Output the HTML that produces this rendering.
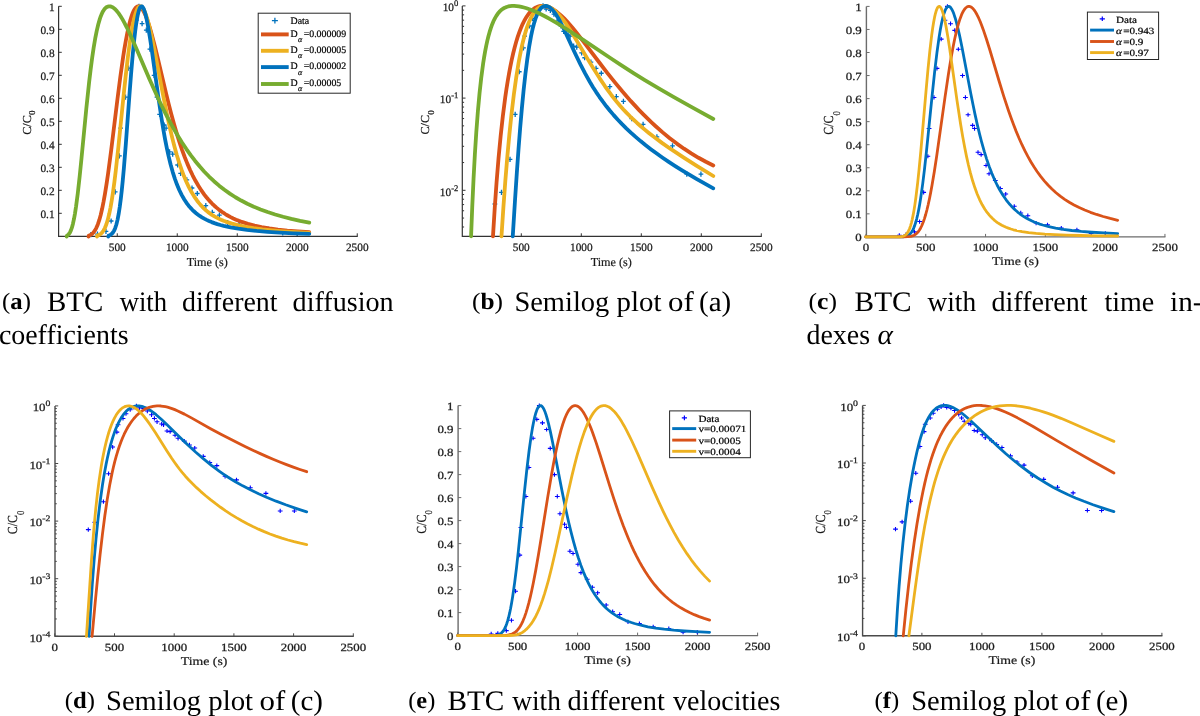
<!DOCTYPE html>
<html><head><meta charset="utf-8"><style>
html,body{margin:0;padding:0;background:#fff;}
body{width:1200px;height:716px;overflow:hidden;position:relative;}
svg{position:absolute;left:0;top:0;will-change:transform;}
text{font-family:"Liberation Serif",serif;text-rendering:geometricPrecision;}
.tl{fill:#1a1a1a;stroke:#1a1a1a;stroke-width:0.25px;}
.al{fill:#1a1a1a;stroke:#1a1a1a;stroke-width:0.2px;}
.lg{fill:#000;stroke:#000;stroke-width:0.2px;}
.cap{fill:#000;}
</style></head><body>
<svg width="1200" height="716" viewBox="0 0 1200 716">
<path d="M58.6 6.3V236.3H357.75" fill="none" stroke="#333" stroke-width="1.2"/>
<path d="M117.25 236.3v-3M177.25 236.3v-3M237.25 236.3v-3M297.25 236.3v-3M357.25 236.3v-3M58.6 213.3h3.2M58.6 190.3h3.2M58.6 167.3h3.2M58.6 144.3h3.2M58.6 121.3h3.2M58.6 98.3h3.2M58.6 75.3h3.2M58.6 52.3h3.2M58.6 29.3h3.2M58.6 6.3h3.2" stroke="#333" stroke-width="1"/>
<text x="117.25" y="250.7" class="tl" text-anchor="middle" style="font-size:11.3px">500</text>
<text x="177.25" y="250.7" class="tl" text-anchor="middle" style="font-size:11.3px">1000</text>
<text x="237.25" y="250.7" class="tl" text-anchor="middle" style="font-size:11.3px">1500</text>
<text x="297.25" y="250.7" class="tl" text-anchor="middle" style="font-size:11.3px">2000</text>
<text x="357.25" y="250.7" class="tl" text-anchor="middle" style="font-size:11.3px">2500</text>
<text x="54.6" y="217.6" class="tl" text-anchor="end" style="font-size:11.3px">0.1</text>
<text x="54.6" y="194.6" class="tl" text-anchor="end" style="font-size:11.3px">0.2</text>
<text x="54.6" y="171.6" class="tl" text-anchor="end" style="font-size:11.3px">0.3</text>
<text x="54.6" y="148.6" class="tl" text-anchor="end" style="font-size:11.3px">0.4</text>
<text x="54.6" y="125.6" class="tl" text-anchor="end" style="font-size:11.3px">0.5</text>
<text x="54.6" y="102.6" class="tl" text-anchor="end" style="font-size:11.3px">0.6</text>
<text x="54.6" y="79.6" class="tl" text-anchor="end" style="font-size:11.3px">0.7</text>
<text x="54.6" y="56.6" class="tl" text-anchor="end" style="font-size:11.3px">0.8</text>
<text x="54.6" y="33.6" class="tl" text-anchor="end" style="font-size:11.3px">0.9</text>
<text x="54.6" y="10.6" class="tl" text-anchor="end" style="font-size:11.3px">1</text>
<text x="207.25" y="265.7" class="al" text-anchor="middle" style="font-size:12.2px">Time (s)</text>
<text transform="translate(30.5 122.6) rotate(-90)" text-anchor="middle" class="al" style="font-size:12.2px">C/C<tspan dx="0.2" dy="4.9" style="font-size:9.03px">0</tspan></text>
<path d="M88.5 234.67h4.7M90.85 232.07v5.2M95.1 234.12h4.7M97.45 231.52v5.2M103.62 231.31h4.7M105.97 228.71v5.2M108.78 221.01h4.7M111.13 218.41v5.2M112.86 191.91h4.7M115.21 189.31v5.2M117.06 155.8h4.7M119.41 153.2v5.2M118.26 128.2h4.7M120.61 125.6v5.2M123.18 97.15h4.7M125.53 94.55v5.2M126.18 68.17h4.7M128.53 65.57v5.2M130.38 38.96h4.7M132.73 36.36v5.2M134.1 20.1h4.7M136.45 17.5v5.2M136.62 6.3h4.7M138.97 3.7v5.2M139.74 23.55h4.7M142.09 20.95v5.2M143.94 30.22h4.7M146.29 27.62v5.2M147.54 49.08h4.7M149.89 46.48v5.2M151.74 75.3h4.7M154.09 72.7v5.2M154.62 97.15h4.7M156.97 94.55v5.2M157.26 114.4h4.7M159.61 111.8v5.2M161.82 124.98h4.7M164.17 122.38v5.2M163.74 128.2h4.7M166.09 125.6v5.2M167.22 151.89h4.7M169.57 149.29v5.2M170.34 154.19h4.7M172.69 151.59v5.2M175.26 165h4.7M177.61 162.4v5.2M178.26 173.28h4.7M180.61 170.68v5.2M184.5 179.95h4.7M186.85 177.35v5.2M189.66 188h4.7M192.01 185.4v5.2M194.94 193.52h4.7M197.29 190.92v5.2M203.46 205.71h4.7M205.81 203.11v5.2M209.94 212.38h4.7M212.29 209.78v5.2M217.02 215.14h4.7M219.37 212.54v5.2M225.3 222.5h4.7M227.65 219.9v5.2M236.7 224.34h4.7M239.05 221.74v5.2M250.5 227.56h4.7M252.85 224.96v5.2M266.1 229.33h4.7M268.45 226.73v5.2M280.38 232.85h4.7M282.73 230.25v5.2M294.54 232.85h4.7M296.89 230.25v5.2" stroke="#0072BD" stroke-width="1.3" fill="none"/>
<path d="M88.56 236.6 L88.81 235.61 L90.01 235.16 L91.21 234.51 L92.29 233.69 L93.25 232.75 L94.09 231.73 L94.81 230.69 L96.25 228.1 L97.81 224.43 L99.25 220.15 L100.69 214.95 L102.13 208.79 L103.57 201.66 L105.01 193.6 L106.57 183.86 L108.13 173.2 L111.25 149.66 L117.49 98.86 L120.25 77.37 L123.13 57.04 L124.45 48.66 L125.77 40.96 L127.33 32.79 L128.89 25.7 L130.45 19.71 L132.01 14.84 L132.73 12.98 L133.57 11.1 L134.29 9.74 L135.13 8.45 L135.85 7.59 L136.69 6.87 L137.53 6.44 L138.37 6.3 L138.97 6.37 L139.57 6.58 L140.17 6.93 L140.89 7.51 L142.21 9.06 L143.65 11.39 L145.09 14.35 L146.53 17.86 L148.09 22.23 L149.65 27.12 L152.29 36.36 L155.17 47.51 L157.93 58.88 L166.09 93.44 L168.73 104.14 L171.25 113.91 L174.01 124.04 L176.65 133.12 L179.29 141.59 L182.05 149.78 L184.69 157 L187.33 163.63 L189.97 169.71 L192.73 175.52 L195.49 180.79 L198.37 185.77 L201.37 190.45 L204.49 194.8 L206.41 197.25 L208.33 199.53 L210.25 201.65 L212.29 203.76 L214.33 205.71 L216.49 207.63 L218.65 209.4 L220.93 211.13 L223.21 212.72 L225.61 214.27 L228.13 215.76 L230.65 217.12 L233.29 218.43 L236.05 219.67 L238.93 220.85 L241.81 221.93 L247.93 223.89 L254.53 225.62 L261.61 227.12 L269.41 228.43 L277.93 229.56 L287.29 230.53 L297.73 231.35 L309.25 232.03" fill="none" stroke="#D95319" stroke-width="3.8" stroke-linejoin="round" stroke-linecap="round"/>
<path d="M97.05 236.6 L97.3 235.61 L98.62 235.15 L99.82 234.52 L100.9 233.73 L101.86 232.81 L102.7 231.79 L103.42 230.74 L104.86 228.07 L106.3 224.48 L107.74 219.85 L109.18 214.02 L110.5 207.55 L111.82 199.95 L113.14 191.24 L114.46 181.44 L115.78 170.64 L118.42 146.61 L123.46 96.85 L125.62 76.46 L127.9 56.88 L130.06 40.84 L131.38 32.42 L132.58 25.77 L133.9 19.57 L135.1 14.99 L136.3 11.39 L136.9 9.96 L137.62 8.56 L138.22 7.66 L138.94 6.88 L139.54 6.48 L140.26 6.3 L140.74 6.35 L141.34 6.6 L141.82 6.95 L142.42 7.56 L143.5 9.14 L144.7 11.56 L145.9 14.63 L147.1 18.29 L148.3 22.47 L149.62 27.59 L151.78 36.97 L154.3 49.07 L163.78 98.56 L167.86 118.66 L170.14 129 L172.42 138.62 L174.58 147.04 L176.86 155.2 L179.14 162.63 L181.54 169.71 L183.94 176.07 L186.34 181.76 L188.86 187.09 L191.5 192.04 L194.26 196.58 L197.14 200.71 L198.82 202.87 L200.5 204.86 L202.3 206.82 L204.1 208.62 L205.9 210.26 L207.82 211.87 L209.86 213.42 L211.9 214.83 L214.06 216.18 L216.22 217.4 L218.62 218.63 L221.02 219.74 L223.54 220.79 L226.3 221.82 L232.06 223.67 L238.54 225.35 L245.62 226.83 L253.54 228.16 L262.42 229.36 L272.26 230.43 L283.3 231.39 L295.66 232.25 L309.25 233.01" fill="none" stroke="#EDB120" stroke-width="3.8" stroke-linejoin="round" stroke-linecap="round"/>
<path d="M108.33 236.6 L108.58 235.61 L109.78 235.18 L110.86 234.58 L111.82 233.81 L112.66 232.89 L113.38 231.88 L113.98 230.85 L115.18 228.17 L116.38 224.49 L117.58 219.59 L118.66 213.97 L119.74 207.08 L120.82 198.85 L121.78 190.36 L122.74 180.81 L123.82 168.87 L125.74 145.04 L129.46 94.71 L131.02 74.59 L132.7 54.96 L134.26 39.28 L135.22 31.05 L136.06 24.79 L137.02 18.75 L137.86 14.46 L138.7 11.1 L139.66 8.36 L140.14 7.43 L140.62 6.78 L141.1 6.41 L141.58 6.3 L141.94 6.39 L142.3 6.63 L142.66 7 L143.14 7.71 L143.86 9.2 L144.7 11.55 L145.54 14.5 L146.38 18 L148.18 27.08 L149.74 36.34 L151.54 48.19 L158.5 98.14 L161.62 119.03 L163.42 129.96 L165.1 139.33 L166.78 147.88 L168.58 156.15 L170.62 164.48 L172.66 171.82 L174.82 178.62 L176.98 184.55 L179.26 189.98 L181.78 195.14 L184.3 199.54 L187.06 203.63 L188.62 205.66 L190.3 207.64 L192.1 209.57 L193.9 211.3 L195.82 212.98 L197.74 214.49 L199.78 215.95 L201.94 217.33 L204.22 218.65 L206.62 219.89 L209.02 221 L211.66 222.1 L214.42 223.13 L217.3 224.08 L220.42 225 L223.66 225.86 L230.62 227.39 L238.3 228.72 L246.94 229.9 L256.66 230.93 L267.58 231.83 L279.82 232.61 L293.62 233.29 L309.25 233.88" fill="none" stroke="#0072BD" stroke-width="3.8" stroke-linejoin="round" stroke-linecap="round"/>
<path d="M66.72 236.6 L66.97 235.6 L67.81 235.09 L68.53 234.45 L69.25 233.59 L69.85 232.66 L70.93 230.41 L71.89 227.69 L72.97 223.72 L74.05 218.71 L75.01 213.35 L76.09 206.31 L77.77 193.39 L79.69 176.16 L81.49 158.35 L86.29 108.91 L89.17 81.77 L90.73 68.66 L92.17 57.73 L93.61 47.96 L95.17 38.72 L96.73 30.84 L98.29 24.25 L99.85 18.88 L100.69 16.46 L101.53 14.34 L102.37 12.52 L103.21 10.96 L104.05 9.67 L105.01 8.47 L105.97 7.56 L106.93 6.92 L107.89 6.51 L108.97 6.31 L110.41 6.42 L111.97 6.95 L113.53 7.89 L115.21 9.3 L116.89 11.1 L118.69 13.39 L120.61 16.22 L122.53 19.39 L124.57 23.08 L126.85 27.53 L129.25 32.5 L131.77 37.99 L136.45 48.65 L149.29 78.66 L156.73 95.29 L159.97 102.2 L163.21 108.86 L166.45 115.28 L169.57 121.22 L173.77 128.83 L177.97 136 L182.17 142.74 L186.37 149.05 L190.69 155.12 L195.13 160.93 L199.57 166.33 L204.13 171.46 L209.05 176.55 L213.97 181.21 L219.13 185.67 L224.41 189.8 L229.81 193.63 L235.45 197.23 L241.21 200.54 L247.33 203.69 L253.81 206.67 L260.53 209.43 L267.61 212.02 L275.17 214.47 L283.09 216.76 L291.37 218.87 L300.13 220.84 L309.25 222.64" fill="none" stroke="#77AC30" stroke-width="3.8" stroke-linejoin="round" stroke-linecap="round"/>
<rect x="258.2" y="13.2" width="92" height="80" fill="#fff" stroke="#262626" stroke-width="1"/>
<path d="M271.9 20.6h6M274.9 17.8v5.6" stroke="#0072BD" stroke-width="1.3"/>
<text x="290.6" y="24.3" class="lg" style="font-size:9.9px">Data</text>
<path d="M261 34.4H288.7" stroke="#D95319" stroke-width="3.9"/>
<text x="290.6" y="36.5" class="lg" style="font-size:9.9px">D<tspan dx="0.3" dy="5.3" style="font-size:8px;font-style:italic">α</tspan><tspan dx="1.4" dy="-5.3">=0.000009</tspan></text>
<path d="M261 50.8H288.7" stroke="#EDB120" stroke-width="3.9"/>
<text x="290.6" y="52.9" class="lg" style="font-size:9.9px">D<tspan dx="0.3" dy="5.3" style="font-size:8px;font-style:italic">α</tspan><tspan dx="1.4" dy="-5.3">=0.000005</tspan></text>
<path d="M261 67.1H288.7" stroke="#0072BD" stroke-width="3.9"/>
<text x="290.6" y="69.2" class="lg" style="font-size:9.9px">D<tspan dx="0.3" dy="5.3" style="font-size:8px;font-style:italic">α</tspan><tspan dx="1.4" dy="-5.3">=0.000002</tspan></text>
<path d="M261 84H288.7" stroke="#77AC30" stroke-width="3.9"/>
<text x="290.6" y="86.1" class="lg" style="font-size:9.9px">D<tspan dx="0.3" dy="5.3" style="font-size:8px;font-style:italic">α</tspan><tspan dx="1.4" dy="-5.3">=0.00005</tspan></text>
<path d="M462.3 5.9V236.3H761.8" fill="none" stroke="#333" stroke-width="1.2"/>
<path d="M521.3 236.3v-3M581.3 236.3v-3M641.3 236.3v-3M701.3 236.3v-3M761.3 236.3v-3M462.3 5.9h3.2M462.3 98.1h3.2M462.3 190.3h3.2M462.3 226.99h1.8M462.3 218.05h1.8M462.3 210.75h1.8M462.3 204.58h1.8M462.3 199.24h1.8M462.3 194.52h1.8M462.3 162.55h1.8M462.3 146.31h1.8M462.3 134.79h1.8M462.3 125.85h1.8M462.3 118.55h1.8M462.3 112.38h1.8M462.3 107.04h1.8M462.3 102.32h1.8M462.3 70.35h1.8M462.3 54.11h1.8M462.3 42.59h1.8M462.3 33.65h1.8M462.3 26.35h1.8M462.3 20.18h1.8M462.3 14.84h1.8M462.3 10.12h1.8" stroke="#333" stroke-width="1"/>
<text x="521.3" y="250.7" class="tl" text-anchor="middle" style="font-size:11.3px">500</text>
<text x="581.3" y="250.7" class="tl" text-anchor="middle" style="font-size:11.3px">1000</text>
<text x="641.3" y="250.7" class="tl" text-anchor="middle" style="font-size:11.3px">1500</text>
<text x="701.3" y="250.7" class="tl" text-anchor="middle" style="font-size:11.3px">2000</text>
<text x="761.3" y="250.7" class="tl" text-anchor="middle" style="font-size:11.3px">2500</text>
<text x="458.3" y="11.1" class="tl" text-anchor="end" style="font-size:11.3px">10<tspan dy="-4.9" style="font-size:8.59px">0</tspan></text>
<text x="458.3" y="103.3" class="tl" text-anchor="end" style="font-size:11.3px">10<tspan dy="-4.9" style="font-size:8.59px">-1</tspan></text>
<text x="458.3" y="195.5" class="tl" text-anchor="end" style="font-size:11.3px">10<tspan dy="-4.9" style="font-size:8.59px">-2</tspan></text>
<text x="611.3" y="265.7" class="al" text-anchor="middle" style="font-size:12.2px">Time (s)</text>
<text transform="translate(429.1 122.4) rotate(-90)" text-anchor="middle" class="al" style="font-size:12.2px">C/C<tspan dx="0.2" dy="4.9" style="font-size:9.03px">0</tspan></text>
<path d="M492.55 204.01h4.7M494.9 201.41v5.2M499.15 192.35h4.7M501.5 189.75v5.2M507.67 159.28h4.7M510.02 156.68v5.2M512.83 114.44h4.7M515.18 111.84v5.2M516.91 71.77h4.7M519.26 69.17v5.2M521.11 47.94h4.7M523.46 45.34v5.2M522.31 36.13h4.7M524.66 33.53v5.2M527.23 26.02h4.7M529.58 23.42v5.2M530.23 18.45h4.7M532.58 15.85v5.2M534.43 12.03h4.7M536.78 9.43v5.2M538.15 8.38h4.7M540.5 5.78v5.2M540.67 5.9h4.7M543.02 3.3v5.2M543.79 9.02h4.7M546.14 6.42v5.2M547.99 10.3h4.7M550.34 7.7v5.2M551.59 14.14h4.7M553.94 11.54v5.2M555.79 20.18h4.7M558.14 17.58v5.2M558.67 26.02h4.7M561.02 23.42v5.2M561.31 31.32h4.7M563.66 28.72v5.2M565.87 34.96h4.7M568.22 32.36v5.2M567.79 36.13h4.7M570.14 33.53v5.2M571.27 46.04h4.7M573.62 43.44v5.2M574.39 47.14h4.7M576.74 44.54v5.2M579.31 52.8h4.7M581.66 50.2v5.2M582.31 57.74h4.7M584.66 55.14v5.2M588.55 62.22h4.7M590.9 59.62v5.2M593.71 68.39h4.7M596.06 65.79v5.2M598.99 73.25h4.7M601.34 70.65v5.2M607.51 86.68h4.7M609.86 84.08v5.2M613.99 96.53h4.7M616.34 93.93v5.2M621.07 101.44h4.7M623.42 98.84v5.2M629.35 118.55h4.7M631.7 115.95v5.2M640.75 124.28h4.7M643.1 121.68v5.2M654.55 136.84h4.7M656.9 134.24v5.2M670.15 145.91h4.7M672.5 143.31v5.2M684.43 174.06h4.7M686.78 171.46v5.2M698.59 174.06h4.7M700.94 171.46v5.2" stroke="#0072BD" stroke-width="1.3" fill="none"/>
<path d="M492.98 236.3 L494.78 207.33 L496.58 182.07 L498.5 158.62 L500.66 135.83 L502.82 116.23 L505.22 97.58 L506.42 89.33 L507.74 80.97 L509.06 73.32 L510.38 66.31 L511.7 59.89 L513.14 53.49 L514.58 47.69 L516.14 42.01 L517.7 36.91 L519.26 32.34 L520.94 27.96 L522.62 24.09 L524.42 20.48 L526.22 17.36 L528.02 14.69 L529.94 12.3 L531.86 10.35 L533.9 8.71 L535.94 7.48 L538.1 6.58 L539.54 6.2 L540.98 5.97 L542.42 5.9 L543.86 5.97 L545.3 6.18 L546.86 6.54 L548.42 7.05 L550.1 7.74 L551.66 8.51 L553.34 9.48 L555.02 10.57 L556.82 11.87 L560.42 14.86 L564.14 18.42 L566.9 21.33 L569.9 24.69 L573.14 28.52 L576.74 32.96 L583.46 41.58 L599.3 62.51 L606.86 72.32 L614.9 82.44 L622.46 91.55 L630.86 101.16 L639.14 110.09 L643.34 114.4 L647.42 118.45 L651.5 122.36 L655.7 126.24 L662.66 132.36 L669.74 138.17 L676.82 143.58 L684.02 148.68 L691.22 153.39 L698.54 157.78 L705.86 161.79 L713.3 165.49" fill="none" stroke="#D95319" stroke-width="3.8" stroke-linejoin="round" stroke-linecap="round"/>
<path d="M501.48 236.3 L503.39 207.35 L505.31 181.2 L507.35 156.35 L509.39 134.27 L511.55 113.64 L513.83 94.62 L516.11 78.16 L518.51 63.29 L519.71 56.72 L521.03 50.12 L522.23 44.65 L523.55 39.18 L524.87 34.26 L526.19 29.85 L527.51 25.93 L528.95 22.17 L530.39 18.89 L531.83 16.06 L533.39 13.46 L534.95 11.31 L536.63 9.44 L538.31 8.01 L539.99 6.97 L541.79 6.26 L542.87 6.02 L543.95 5.91 L545.03 5.92 L546.23 6.07 L547.43 6.36 L548.63 6.78 L549.83 7.32 L551.03 7.97 L553.55 9.7 L556.19 11.97 L558.95 14.79 L561.83 18.17 L563.99 20.97 L566.15 23.97 L570.95 31.22 L575.99 39.4 L587.87 59.35 L593.51 68.62 L599.51 78.07 L605.03 86.28 L608.15 90.68 L611.15 94.74 L614.15 98.61 L617.15 102.31 L620.27 105.96 L623.39 109.44 L626.63 112.88 L629.99 116.29 L633.47 119.65 L637.07 122.98 L640.79 126.27 L644.75 129.63 L648.83 132.95 L653.15 136.34 L662.27 143.1 L672.11 149.94 L683.39 157.38 L696.35 165.58 L713.3 176" fill="none" stroke="#EDB120" stroke-width="3.8" stroke-linejoin="round" stroke-linecap="round"/>
<path d="M512.76 236.3 L515.03 200 L516.83 172.78 L518.51 149.23 L520.19 127.7 L521.87 108.24 L523.67 89.68 L525.47 73.39 L527.27 59.28 L529.07 47.2 L530.99 36.43 L531.95 31.81 L532.91 27.67 L533.87 24 L534.95 20.38 L536.03 17.25 L537.11 14.58 L538.19 12.32 L539.39 10.27 L540.59 8.66 L541.79 7.45 L543.11 6.54 L544.43 6.03 L545.75 5.9 L547.19 6.15 L548.63 6.76 L550.07 7.7 L551.63 9.08 L553.19 10.77 L554.87 12.93 L556.55 15.4 L557.99 17.74 L559.55 20.48 L562.91 27.04 L566.03 33.65 L574.79 52.76 L580.43 64.43 L585.23 73.69 L589.91 82.03 L593.03 87.2 L596.15 92.08 L599.51 97.03 L602.87 101.71 L606.35 106.28 L609.95 110.75 L613.67 115.11 L617.63 119.51 L621.83 123.92 L626.27 128.33 L630.83 132.62 L635.63 136.91 L640.55 141.08 L645.71 145.25 L651.11 149.4 L656.75 153.55 L662.63 157.69 L668.75 161.83 L675.23 166.04 L682.07 170.32 L689.27 174.68 L696.83 179.11 L704.87 183.68 L713.3 188.34" fill="none" stroke="#0072BD" stroke-width="3.8" stroke-linejoin="round" stroke-linecap="round"/>
<path d="M471.07 236.3 L472.22 207.33 L473.54 178.89 L474.86 154.66 L476.3 132.19 L477.86 111.68 L479.54 93.27 L481.22 77.95 L483.14 63.54 L484.1 57.37 L485.18 51.15 L486.26 45.6 L487.34 40.65 L488.42 36.24 L489.62 31.9 L490.82 28.09 L492.14 24.44 L493.46 21.28 L494.9 18.34 L496.34 15.84 L497.9 13.58 L499.46 11.72 L501.14 10.1 L502.94 8.74 L504.86 7.65 L506.54 6.95 L508.22 6.46 L510.02 6.12 L512.06 5.93 L514.22 5.91 L516.5 6.06 L518.9 6.37 L521.42 6.85 L523.94 7.47 L526.58 8.25 L529.34 9.19 L532.22 10.3 L535.22 11.57 L538.46 13.06 L545.3 16.52 L550.46 19.37 L556.1 22.65 L562.34 26.45 L569.18 30.77 L583.22 39.92 L610.7 58.28 L621.5 65.41 L633.5 73.13 L644.78 80.14 L658.7 88.45 L674.3 97.42 L692.18 107.42 L713.3 118.96" fill="none" stroke="#77AC30" stroke-width="3.8" stroke-linejoin="round" stroke-linecap="round"/>
<path d="M866.4 6.4V236.9H1165.45" fill="none" stroke="#6c6c6c" stroke-width="1.4"/>
<path d="M865.95 236.9v-3M925.75 236.9v-3M985.55 236.9v-3M1045.35 236.9v-3M1105.15 236.9v-3M1164.95 236.9v-3M866.4 236.9h3.2M866.4 213.85h3.2M866.4 190.8h3.2M866.4 167.75h3.2M866.4 144.7h3.2M866.4 121.65h3.2M866.4 98.6h3.2M866.4 75.55h3.2M866.4 52.5h3.2M866.4 29.45h3.2M866.4 6.4h3.2" stroke="#6c6c6c" stroke-width="1"/>
<text transform="translate(865.95 251.3) scale(1.17 1)" class="tl" text-anchor="middle" style="font-size:11px">0</text>
<text transform="translate(925.75 251.3) scale(1.17 1)" class="tl" text-anchor="middle" style="font-size:11px">500</text>
<text transform="translate(985.55 251.3) scale(1.17 1)" class="tl" text-anchor="middle" style="font-size:11px">1000</text>
<text transform="translate(1045.35 251.3) scale(1.17 1)" class="tl" text-anchor="middle" style="font-size:11px">1500</text>
<text transform="translate(1105.15 251.3) scale(1.17 1)" class="tl" text-anchor="middle" style="font-size:11px">2000</text>
<text transform="translate(1164.95 251.3) scale(1.17 1)" class="tl" text-anchor="middle" style="font-size:11px">2500</text>
<text transform="translate(861.8 241.2) scale(1.17 1)" class="tl" text-anchor="end" style="font-size:11px">0</text>
<text transform="translate(861.8 218.15) scale(1.17 1)" class="tl" text-anchor="end" style="font-size:11px">0.1</text>
<text transform="translate(861.8 195.1) scale(1.17 1)" class="tl" text-anchor="end" style="font-size:11px">0.2</text>
<text transform="translate(861.8 172.05) scale(1.17 1)" class="tl" text-anchor="end" style="font-size:11px">0.3</text>
<text transform="translate(861.8 149) scale(1.17 1)" class="tl" text-anchor="end" style="font-size:11px">0.4</text>
<text transform="translate(861.8 125.95) scale(1.17 1)" class="tl" text-anchor="end" style="font-size:11px">0.5</text>
<text transform="translate(861.8 102.9) scale(1.17 1)" class="tl" text-anchor="end" style="font-size:11px">0.6</text>
<text transform="translate(861.8 79.85) scale(1.17 1)" class="tl" text-anchor="end" style="font-size:11px">0.7</text>
<text transform="translate(861.8 56.8) scale(1.17 1)" class="tl" text-anchor="end" style="font-size:11px">0.8</text>
<text transform="translate(861.8 33.75) scale(1.17 1)" class="tl" text-anchor="end" style="font-size:11px">0.9</text>
<text transform="translate(861.8 10.7) scale(1.17 1)" class="tl" text-anchor="end" style="font-size:11px">1</text>
<text transform="translate(1015.45 265) scale(1.17 1)" class="al" text-anchor="middle" style="font-size:11.8px">Time (s)</text>
<text transform="translate(833.3 122.95) scale(1.17 1) rotate(-90)" text-anchor="middle" class="al" style="font-size:11.8px">C/C<tspan dx="0.2" dy="5.6" style="font-size:8.73px">0</tspan></text>
<path d="M896.9 235.26h4.8M899.3 233.16v4.2M903.5 234.71h4.8M905.9 232.61v4.2M912.02 231.9h4.8M914.42 229.8v4.2M917.18 221.57h4.8M919.58 219.47v4.2M921.26 192.41h4.8M923.66 190.31v4.2M925.46 156.23h4.8M927.86 154.13v4.2M926.66 128.56h4.8M929.06 126.47v4.2M931.58 97.45h4.8M933.98 95.35v4.2M934.58 68.4h4.8M936.98 66.3v4.2M938.78 39.13h4.8M941.18 37.03v4.2M942.5 20.23h4.8M944.9 18.13v4.2M945.02 6.4h4.8M947.42 4.3v4.2M948.14 23.69h4.8M950.54 21.59v4.2M952.34 30.37h4.8M954.74 28.27v4.2M955.94 49.27h4.8M958.34 47.17v4.2M960.14 75.55h4.8M962.54 73.45v4.2M963.02 97.45h4.8M965.42 95.35v4.2M965.66 114.73h4.8M968.06 112.64v4.2M970.22 125.34h4.8M972.62 123.24v4.2M972.14 128.56h4.8M974.54 126.47v4.2M975.62 152.31h4.8M978.02 150.21v4.2M978.74 154.61h4.8M981.14 152.51v4.2M983.66 165.44h4.8M986.06 163.34v4.2M986.66 173.74h4.8M989.06 171.64v4.2M992.9 180.43h4.8M995.3 178.33v4.2M998.06 188.5h4.8M1000.46 186.4v4.2M1003.34 194.03h4.8M1005.74 191.93v4.2M1011.86 206.24h4.8M1014.26 204.14v4.2M1018.34 212.93h4.8M1020.74 210.83v4.2M1025.42 215.69h4.8M1027.82 213.59v4.2M1033.7 223.07h4.8M1036.1 220.97v4.2M1045.1 224.91h4.8M1047.5 222.81v4.2M1058.9 228.14h4.8M1061.3 226.04v4.2M1074.5 229.92h4.8M1076.9 227.82v4.2M1088.78 233.44h4.8M1091.18 231.34v4.2M1102.94 233.44h4.8M1105.34 231.34v4.2" stroke="#0000FF" stroke-width="1.1" fill="none"/>
<path d="M865.7 236.9 L899.54 236.88 L903.14 236.74 L905.54 236.39 L907.1 235.9 L908.42 235.23 L909.62 234.33 L910.7 233.22 L911.78 231.76 L912.74 230.11 L913.7 228.09 L914.66 225.63 L915.74 222.3 L916.7 218.8 L917.78 214.2 L918.74 209.5 L919.7 204.21 L920.66 198.32 L922.7 183.89 L924.38 170.19 L926.3 152.89 L932.3 93.84 L934.58 72.47 L936.98 52.3 L939.14 36.86 L940.34 29.57 L941.54 23.25 L942.74 17.94 L943.82 14.03 L945.02 10.66 L945.62 9.35 L946.22 8.28 L946.82 7.46 L947.42 6.87 L948.02 6.52 L948.62 6.4 L949.1 6.46 L949.58 6.66 L950.06 7 L950.66 7.6 L951.74 9.18 L952.82 11.35 L953.9 14.08 L955.1 17.69 L956.3 21.86 L957.5 26.51 L959.54 35.36 L961.94 46.93 L970.82 93.7 L972.98 104.6 L975.02 114.39 L977.3 124.67 L979.58 134.2 L981.86 142.98 L984.26 151.43 L986.66 159.12 L989.18 166.44 L991.82 173.33 L994.46 179.5 L997.22 185.26 L1000.1 190.59 L1002.98 195.3 L1006.1 199.79 L1007.9 202.12 L1009.7 204.28 L1011.62 206.41 L1013.54 208.37 L1015.58 210.29 L1017.62 212.04 L1019.78 213.75 L1021.94 215.3 L1024.22 216.81 L1026.62 218.24 L1029.02 219.54 L1031.54 220.78 L1034.18 221.95 L1036.94 223.05 L1039.82 224.08 L1042.7 225.01 L1048.82 226.67 L1055.66 228.13 L1063.22 229.4 L1071.74 230.5 L1081.22 231.45 L1091.9 232.26 L1104.02 232.97 L1117.7 233.56" fill="none" stroke="#0072BD" stroke-width="2.8" stroke-linejoin="round" stroke-linecap="round"/>
<path d="M865.7 236.9 L903.62 236.87 L907.94 236.72 L910.82 236.34 L912.62 235.86 L914.18 235.18 L915.62 234.28 L916.94 233.16 L918.26 231.69 L919.46 230.01 L920.66 227.96 L921.86 225.49 L923.18 222.27 L924.38 218.84 L925.7 214.49 L926.9 210.01 L928.1 205.02 L929.42 198.94 L930.74 192.28 L932.06 185.05 L934.34 171.4 L936.74 155.69 L945.02 97.12 L948.26 75.28 L949.94 64.75 L951.62 54.92 L953.18 46.49 L954.74 38.8 L956.54 30.91 L958.22 24.53 L959.9 19.13 L961.58 14.7 L962.42 12.86 L963.26 11.25 L964.1 9.89 L965.06 8.61 L965.9 7.74 L966.86 7.01 L967.7 6.61 L968.66 6.41 L969.26 6.42 L969.98 6.56 L970.58 6.79 L971.3 7.19 L972.62 8.27 L974.06 9.91 L975.5 12.02 L977.06 14.77 L978.62 17.97 L980.18 21.56 L981.62 25.19 L983.18 29.42 L986.42 38.99 L990.02 50.54 L999.14 81.23 L1003.7 96.05 L1008.62 111 L1011.02 117.82 L1013.42 124.32 L1016.18 131.38 L1019.06 138.28 L1021.94 144.7 L1024.82 150.67 L1027.82 156.42 L1030.82 161.72 L1033.94 166.8 L1037.06 171.47 L1040.66 176.39 L1044.26 180.85 L1047.98 185.02 L1051.94 189.02 L1056.02 192.72 L1060.22 196.13 L1064.66 199.34 L1069.22 202.27 L1074.02 205 L1079.18 207.59 L1084.7 210.05 L1090.46 212.32 L1096.58 214.46 L1103.18 216.51 L1110.26 218.46 L1117.7 220.28" fill="none" stroke="#D95319" stroke-width="2.8" stroke-linejoin="round" stroke-linecap="round"/>
<path d="M865.7 236.9 L897.02 236.88 L900.26 236.76 L902.42 236.43 L903.74 236.01 L904.94 235.37 L906.02 234.52 L906.98 233.45 L907.94 232.04 L908.78 230.45 L909.62 228.48 L910.46 226.09 L911.42 222.77 L912.26 219.3 L913.22 214.64 L914.06 209.94 L914.9 204.63 L915.86 197.81 L917.66 182.94 L919.1 169.22 L920.78 151.54 L926.06 90.62 L927.98 69.45 L929.9 50.39 L931.7 35.13 L932.66 28.21 L933.62 22.2 L934.58 17.15 L935.42 13.52 L936.26 10.65 L937.22 8.28 L937.7 7.45 L938.18 6.87 L938.66 6.52 L939.14 6.4 L939.5 6.46 L939.98 6.73 L940.34 7.08 L940.82 7.72 L941.66 9.35 L942.5 11.56 L943.34 14.32 L944.3 18.11 L945.26 22.5 L946.22 27.42 L947.9 37.13 L949.7 48.75 L957.02 100.59 L960.62 124.25 L962.66 136.37 L964.58 146.84 L966.5 156.36 L968.42 164.97 L970.46 173.14 L972.62 180.79 L974.9 187.84 L977.18 193.97 L979.58 199.54 L982.22 204.77 L984.86 209.19 L986.3 211.3 L987.74 213.23 L989.3 215.14 L990.86 216.86 L992.54 218.54 L994.22 220.05 L996.02 221.51 L997.82 222.81 L999.74 224.05 L1001.78 225.22 L1003.94 226.31 L1006.1 227.27 L1008.38 228.17 L1010.9 229.03 L1013.42 229.77 L1016.18 230.48 L1022.06 231.68 L1028.66 232.67 L1036.1 233.47 L1044.86 234.15 L1054.94 234.7 L1066.7 235.14 L1080.74 235.5 L1097.42 235.78 L1117.7 236" fill="none" stroke="#EDB120" stroke-width="2.8" stroke-linejoin="round" stroke-linecap="round"/>
<rect x="1087.4" y="12.1" width="71.2" height="47.4" fill="#fff" stroke="#262626" stroke-width="1"/>
<path d="M1099.7 18.8h5.2M1102.3 16.5v4.6" stroke="#0000FF" stroke-width="1.2"/>
<text transform="translate(1116 22.5) scale(1.17 1)" class="lg" style="font-size:9.5px">Data</text>
<path d="M1090.1 30.1H1114" stroke="#0072BD" stroke-width="2.9"/>
<text transform="translate(1116 33.8) scale(1.17 1)" class="lg" style="font-size:9.5px"><tspan style="font-style:italic">α</tspan><tspan dx="1.1">=0.943</tspan></text>
<path d="M1090.1 41.5H1114" stroke="#D95319" stroke-width="2.9"/>
<text transform="translate(1116 45.2) scale(1.17 1)" class="lg" style="font-size:9.5px"><tspan style="font-style:italic">α</tspan><tspan dx="1.1">=0.9</tspan></text>
<path d="M1090.1 52.6H1114" stroke="#EDB120" stroke-width="2.9"/>
<text transform="translate(1116 56.3) scale(1.17 1)" class="lg" style="font-size:9.5px"><tspan style="font-style:italic">α</tspan><tspan dx="1.1">=0.97</tspan></text>
<path d="M55 405.9V636.3H353.8" fill="none" stroke="#4a4a4a" stroke-width="1.4"/>
<path d="M54.8 636.3v-3M114.5 636.3v-3M174.2 636.3v-3M233.9 636.3v-3M293.6 636.3v-3M353.3 636.3v-3M55 405.9h3.2M55 463.5h3.2M55 521.1h3.2M55 578.7h3.2M55 636.3h3.2M55 618.96h1.8M55 608.82h1.8M55 601.62h1.8M55 596.04h1.8M55 591.48h1.8M55 587.62h1.8M55 584.28h1.8M55 581.34h1.8M55 561.36h1.8M55 551.22h1.8M55 544.02h1.8M55 538.44h1.8M55 533.88h1.8M55 530.02h1.8M55 526.68h1.8M55 523.74h1.8M55 503.76h1.8M55 493.62h1.8M55 486.42h1.8M55 480.84h1.8M55 476.28h1.8M55 472.42h1.8M55 469.08h1.8M55 466.14h1.8M55 446.16h1.8M55 436.02h1.8M55 428.82h1.8M55 423.24h1.8M55 418.68h1.8M55 414.82h1.8M55 411.48h1.8M55 408.54h1.8" stroke="#4a4a4a" stroke-width="1"/>
<text transform="translate(54.8 650.7) scale(1.17 1)" class="tl" text-anchor="middle" style="font-size:11px">0</text>
<text transform="translate(114.5 650.7) scale(1.17 1)" class="tl" text-anchor="middle" style="font-size:11px">500</text>
<text transform="translate(174.2 650.7) scale(1.17 1)" class="tl" text-anchor="middle" style="font-size:11px">1000</text>
<text transform="translate(233.9 650.7) scale(1.17 1)" class="tl" text-anchor="middle" style="font-size:11px">1500</text>
<text transform="translate(293.6 650.7) scale(1.17 1)" class="tl" text-anchor="middle" style="font-size:11px">2000</text>
<text transform="translate(353.3 650.7) scale(1.17 1)" class="tl" text-anchor="middle" style="font-size:11px">2500</text>
<text transform="translate(50.4 411.1) scale(1.17 1)" class="tl" text-anchor="end" style="font-size:11px">10<tspan dy="-4.9" style="font-size:8.36px">0</tspan></text>
<text transform="translate(50.4 468.7) scale(1.17 1)" class="tl" text-anchor="end" style="font-size:11px">10<tspan dy="-4.9" style="font-size:8.36px">-1</tspan></text>
<text transform="translate(50.4 526.3) scale(1.17 1)" class="tl" text-anchor="end" style="font-size:11px">10<tspan dy="-4.9" style="font-size:8.36px">-2</tspan></text>
<text transform="translate(50.4 583.9) scale(1.17 1)" class="tl" text-anchor="end" style="font-size:11px">10<tspan dy="-4.9" style="font-size:8.36px">-3</tspan></text>
<text transform="translate(50.4 641.5) scale(1.17 1)" class="tl" text-anchor="end" style="font-size:11px">10<tspan dy="-4.9" style="font-size:8.36px">-4</tspan></text>
<text transform="translate(204.05 664.5) scale(1.17 1)" class="al" text-anchor="middle" style="font-size:11.8px">Time (s)</text>
<text transform="translate(17 522.4) scale(1.17 1) rotate(-90)" text-anchor="middle" class="al" style="font-size:11.8px">C/C<tspan dx="0.2" dy="5.6" style="font-size:8.73px">0</tspan></text>
<path d="M85.9 529.67h4.8M88.3 527.57v4.2M92.5 522.38h4.8M94.9 520.28v4.2M101.02 501.72h4.8M103.42 499.62v4.2M106.18 473.71h4.8M108.58 471.61v4.2M110.26 447.05h4.8M112.66 444.95v4.2M114.46 432.16h4.8M116.86 430.06v4.2M115.66 424.79h4.8M118.06 422.69v4.2M120.58 418.47h4.8M122.98 416.37v4.2M123.58 413.74h4.8M125.98 411.64v4.2M127.78 409.73h4.8M130.18 407.63v4.2M131.5 407.45h4.8M133.9 405.35v4.2M134.02 405.9h4.8M136.42 403.8v4.2M137.14 407.85h4.8M139.54 405.75v4.2M141.34 408.65h4.8M143.74 406.55v4.2M144.94 411.05h4.8M147.34 408.95v4.2M149.14 414.82h4.8M151.54 412.72v4.2M152.02 418.47h4.8M154.42 416.37v4.2M154.66 421.78h4.8M157.06 419.68v4.2M159.22 424.05h4.8M161.62 421.95v4.2M161.14 424.79h4.8M163.54 422.69v4.2M164.62 430.98h4.8M167.02 428.88v4.2M167.74 431.67h4.8M170.14 429.57v4.2M172.66 435.2h4.8M175.06 433.1v4.2M175.66 438.29h4.8M178.06 436.19v4.2M181.9 441.08h4.8M184.3 438.98v4.2M187.06 444.94h4.8M189.46 442.84v4.2M192.34 447.98h4.8M194.74 445.88v4.2M200.86 456.37h4.8M203.26 454.27v4.2M207.34 462.52h4.8M209.74 460.42v4.2M214.42 465.59h4.8M216.82 463.49v4.2M222.7 476.28h4.8M225.1 474.18v4.2M234.1 479.86h4.8M236.5 477.76v4.2M247.9 487.7h4.8M250.3 485.6v4.2M263.5 493.37h4.8M265.9 491.27v4.2M277.78 510.96h4.8M280.18 508.86v4.2M291.94 510.96h4.8M294.34 508.86v4.2" stroke="#0000FF" stroke-width="1.1" fill="none"/>
<path d="M89.06 636.3 L90.58 609.9 L92.26 584.43 L94.06 560.79 L95.98 539.04 L98.02 519.18 L100.18 501.21 L102.46 485.07 L103.66 477.58 L104.86 470.7 L106.06 464.37 L107.38 458.01 L108.7 452.21 L110.14 446.48 L111.58 441.3 L113.02 436.63 L114.58 432.09 L116.14 428.05 L117.82 424.2 L119.5 420.82 L121.18 417.88 L122.98 415.16 L124.78 412.85 L126.7 410.81 L128.62 409.17 L130.54 407.9 L131.74 407.27 L132.94 406.77 L134.14 406.39 L135.34 406.12 L136.54 405.96 L137.86 405.9 L139.06 405.95 L140.38 406.1 L143.02 406.73 L145.78 407.8 L148.66 409.31 L151.66 411.26 L153.82 412.86 L156.1 414.69 L161.26 419.22 L166.3 423.98 L180.34 437.73 L187.9 444.96 L195.82 452.23 L203.26 458.68 L211.42 465.29 L215.5 468.41 L219.46 471.3 L223.42 474.07 L227.38 476.72 L231.34 479.24 L235.42 481.71 L242.74 485.86 L250.42 489.85 L258.58 493.75 L267.1 497.51 L276.1 501.18 L285.7 504.8 L295.9 508.37 L306.7 511.9" fill="none" stroke="#0072BD" stroke-width="2.8" stroke-linejoin="round" stroke-linecap="round"/>
<path d="M92.08 636.3 L95.14 603.24 L97.66 577.48 L100.06 554.76 L102.46 534.07 L104.86 515.55 L107.26 499.24 L109.66 485.15 L112.06 473.12 L113.38 467.28 L114.82 461.45 L116.26 456.14 L117.7 451.3 L119.26 446.53 L120.82 442.2 L122.5 438 L124.18 434.21 L125.98 430.56 L127.78 427.29 L129.7 424.18 L131.74 421.24 L133.9 418.49 L136.06 416.08 L138.22 413.98 L140.5 412.08 L142.18 410.87 L143.86 409.81 L145.66 408.83 L147.46 408.01 L149.26 407.34 L151.18 406.78 L153.1 406.36 L155.02 406.08 L156.94 405.93 L158.98 405.91 L161.02 406.02 L163.18 406.27 L165.34 406.65 L167.5 407.15 L169.78 407.81 L172.06 408.57 L174.82 409.63 L177.82 410.92 L184.42 414.12 L191.86 418.13 L210.58 428.66 L221.38 434.46 L238.06 443.07 L245.5 446.75 L252.82 450.24 L259.66 453.39 L266.38 456.37 L273.1 459.23 L279.82 461.97 L286.54 464.58 L293.26 467.08 L299.98 469.45 L306.7 471.7" fill="none" stroke="#D95319" stroke-width="2.8" stroke-linejoin="round" stroke-linecap="round"/>
<path d="M86.45 636.3 L91.18 564.41 L92.62 544.58 L94.06 526.81 L95.74 508.91 L97.42 493.64 L99.22 479.66 L101.26 466.24 L102.34 460.01 L103.54 453.7 L104.74 448 L106.06 442.34 L107.38 437.28 L108.7 432.75 L110.02 428.71 L111.46 424.8 L112.9 421.36 L114.46 418.12 L116.02 415.33 L117.7 412.79 L119.38 410.69 L121.06 409.01 L122.86 407.63 L124.66 406.68 L125.62 406.33 L126.58 406.08 L128.5 405.9 L129.46 405.95 L130.54 406.12 L132.58 406.75 L134.62 407.75 L136.78 409.19 L138.94 410.99 L141.22 413.25 L143.14 415.41 L145.3 418.07 L147.58 421.1 L149.98 424.48 L155.5 432.79 L166.78 450.66 L171.7 458.2 L174.46 462.23 L177.1 465.91 L179.62 469.25 L182.14 472.4 L185.38 476.21 L188.86 480.02 L192.58 483.83 L196.54 487.64 L200.86 491.57 L205.66 495.71 L210.46 499.64 L215.38 503.47 L220.54 507.27 L225.7 510.86 L230.98 514.32 L236.38 517.65 L241.78 520.76 L247.3 523.74 L252.82 526.52 L258.46 529.16 L264.22 531.65 L269.98 533.95 L275.86 536.12 L281.86 538.13 L287.98 540 L294.1 541.68 L300.34 543.22 L306.7 544.61" fill="none" stroke="#EDB120" stroke-width="2.8" stroke-linejoin="round" stroke-linecap="round"/>
<path d="M458.1 405.6V635.6H758.1" fill="none" stroke="#6c6c6c" stroke-width="1.4"/>
<path d="M457.6 635.6v-3M517.6 635.6v-3M577.6 635.6v-3M637.6 635.6v-3M697.6 635.6v-3M757.6 635.6v-3M458.1 635.6h3.2M458.1 612.6h3.2M458.1 589.6h3.2M458.1 566.6h3.2M458.1 543.6h3.2M458.1 520.6h3.2M458.1 497.6h3.2M458.1 474.6h3.2M458.1 451.6h3.2M458.1 428.6h3.2M458.1 405.6h3.2" stroke="#6c6c6c" stroke-width="1"/>
<text transform="translate(457.6 650) scale(1.17 1)" class="tl" text-anchor="middle" style="font-size:11px">0</text>
<text transform="translate(517.6 650) scale(1.17 1)" class="tl" text-anchor="middle" style="font-size:11px">500</text>
<text transform="translate(577.6 650) scale(1.17 1)" class="tl" text-anchor="middle" style="font-size:11px">1000</text>
<text transform="translate(637.6 650) scale(1.17 1)" class="tl" text-anchor="middle" style="font-size:11px">1500</text>
<text transform="translate(697.6 650) scale(1.17 1)" class="tl" text-anchor="middle" style="font-size:11px">2000</text>
<text transform="translate(757.6 650) scale(1.17 1)" class="tl" text-anchor="middle" style="font-size:11px">2500</text>
<text transform="translate(453.5 639.9) scale(1.17 1)" class="tl" text-anchor="end" style="font-size:11px">0</text>
<text transform="translate(453.5 616.9) scale(1.17 1)" class="tl" text-anchor="end" style="font-size:11px">0.1</text>
<text transform="translate(453.5 593.9) scale(1.17 1)" class="tl" text-anchor="end" style="font-size:11px">0.2</text>
<text transform="translate(453.5 570.9) scale(1.17 1)" class="tl" text-anchor="end" style="font-size:11px">0.3</text>
<text transform="translate(453.5 547.9) scale(1.17 1)" class="tl" text-anchor="end" style="font-size:11px">0.4</text>
<text transform="translate(453.5 524.9) scale(1.17 1)" class="tl" text-anchor="end" style="font-size:11px">0.5</text>
<text transform="translate(453.5 501.9) scale(1.17 1)" class="tl" text-anchor="end" style="font-size:11px">0.6</text>
<text transform="translate(453.5 478.9) scale(1.17 1)" class="tl" text-anchor="end" style="font-size:11px">0.7</text>
<text transform="translate(453.5 455.9) scale(1.17 1)" class="tl" text-anchor="end" style="font-size:11px">0.8</text>
<text transform="translate(453.5 432.9) scale(1.17 1)" class="tl" text-anchor="end" style="font-size:11px">0.9</text>
<text transform="translate(453.5 409.9) scale(1.17 1)" class="tl" text-anchor="end" style="font-size:11px">1</text>
<text transform="translate(607.6 664) scale(1.17 1)" class="al" text-anchor="middle" style="font-size:11.8px">Time (s)</text>
<text transform="translate(425.8 521.9) scale(1.17 1) rotate(-90)" text-anchor="middle" class="al" style="font-size:11.8px">C/C<tspan dx="0.2" dy="5.6" style="font-size:8.73px">0</tspan></text>
<path d="M488.8 633.97h4.8M491.2 631.87v4.2M495.4 633.41h4.8M497.8 631.31v4.2M503.92 630.61h4.8M506.32 628.51v4.2M509.08 620.31h4.8M511.48 618.21v4.2M513.16 591.21h4.8M515.56 589.11v4.2M517.36 555.1h4.8M519.76 553v4.2M518.56 527.5h4.8M520.96 525.4v4.2M523.48 496.45h4.8M525.88 494.35v4.2M526.48 467.47h4.8M528.88 465.37v4.2M530.68 438.26h4.8M533.08 436.16v4.2M534.4 419.4h4.8M536.8 417.3v4.2M536.92 405.6h4.8M539.32 403.5v4.2M540.04 422.85h4.8M542.44 420.75v4.2M544.24 429.52h4.8M546.64 427.42v4.2M547.84 448.38h4.8M550.24 446.28v4.2M552.04 474.6h4.8M554.44 472.5v4.2M554.92 496.45h4.8M557.32 494.35v4.2M557.56 513.7h4.8M559.96 511.6v4.2M562.12 524.28h4.8M564.52 522.18v4.2M564.04 527.5h4.8M566.44 525.4v4.2M567.52 551.19h4.8M569.92 549.09v4.2M570.64 553.49h4.8M573.04 551.39v4.2M575.56 564.3h4.8M577.96 562.2v4.2M578.56 572.58h4.8M580.96 570.48v4.2M584.8 579.25h4.8M587.2 577.15v4.2M589.96 587.3h4.8M592.36 585.2v4.2M595.24 592.82h4.8M597.64 590.72v4.2M603.76 605.01h4.8M606.16 602.91v4.2M610.24 611.68h4.8M612.64 609.58v4.2M617.32 614.44h4.8M619.72 612.34v4.2M625.6 621.8h4.8M628 619.7v4.2M637 623.64h4.8M639.4 621.54v4.2M650.8 626.86h4.8M653.2 624.76v4.2M666.4 628.63h4.8M668.8 626.53v4.2M680.68 632.15h4.8M683.08 630.05v4.2M694.84 632.15h4.8M697.24 630.05v4.2" stroke="#0000FF" stroke-width="1.1" fill="none"/>
<path d="M457.6 635.6 L491.2 635.58 L494.8 635.44 L497.32 635.07 L498.88 634.58 L500.2 633.91 L501.4 633.03 L502.6 631.8 L503.68 630.33 L504.64 628.69 L505.6 626.67 L506.56 624.23 L507.64 620.93 L508.6 617.47 L509.68 612.93 L510.64 608.3 L511.6 603.08 L512.68 596.52 L514.72 582.17 L516.4 568.57 L518.32 551.43 L524.56 490.64 L526.84 469.51 L529.12 450.5 L531.28 435.13 L532.48 427.88 L533.56 422.2 L534.76 416.86 L535.84 412.94 L536.92 409.87 L537.52 408.53 L538.12 407.45 L538.6 406.76 L539.2 406.13 L539.8 405.75 L540.4 405.6 L540.88 405.66 L541.36 405.86 L541.84 406.2 L542.32 406.69 L543.28 408.07 L544.24 409.96 L545.2 412.34 L546.28 415.54 L547.36 419.24 L548.56 423.86 L550.48 432.15 L552.64 442.47 L561.64 489.05 L564.04 500.98 L566.2 511.21 L568.72 522.46 L571.12 532.41 L573.52 541.62 L575.92 550.07 L578.32 557.79 L580.84 565.16 L583.48 572.11 L586.12 578.33 L588.88 584.13 L591.76 589.49 L594.64 594.21 L597.76 598.69 L599.56 601.01 L601.36 603.15 L603.28 605.26 L605.2 607.2 L607.12 608.97 L609.16 610.71 L611.32 612.38 L613.48 613.91 L615.76 615.38 L618.04 616.72 L620.56 618.06 L623.08 619.27 L625.72 620.43 L628.48 621.51 L631.36 622.53 L634.48 623.52 L640.84 625.24 L647.92 626.76 L655.72 628.08 L664.24 629.21 L673.72 630.18 L684.28 631.01 L696.16 631.71 L709.6 632.3" fill="none" stroke="#0072BD" stroke-width="2.8" stroke-linejoin="round" stroke-linecap="round"/>
<path d="M457.6 635.6 L499.72 635.57 L505 635.39 L506.92 635.21 L508.6 634.95 L510.64 634.46 L512.56 633.75 L514.36 632.76 L515.92 631.59 L517.36 630.19 L518.8 628.43 L520.24 626.27 L521.56 623.89 L523 620.83 L524.44 617.24 L525.88 613.12 L527.32 608.44 L528.76 603.19 L530.2 597.39 L531.64 591.04 L533.2 583.58 L535.72 570.37 L538.48 554.54 L541.12 538.46 L547.84 496.4 L551.56 474.4 L553.48 463.86 L555.4 454.03 L557.2 445.53 L558.88 438.28 L560.92 430.42 L562.84 424.01 L564.76 418.57 L565.72 416.22 L566.8 413.86 L567.76 412.03 L568.72 410.43 L569.68 409.07 L570.76 407.82 L571.72 406.94 L572.8 406.23 L573.76 405.82 L574.84 405.61 L575.56 405.62 L576.4 405.76 L577.24 406.06 L578.08 406.5 L578.92 407.08 L579.76 407.79 L581.56 409.77 L583.36 412.31 L585.16 415.38 L587.08 419.17 L589.12 423.73 L590.8 427.85 L592.48 432.26 L596.2 442.87 L600.04 454.73 L609.16 484.1 L613.72 498.38 L618.52 512.62 L623.2 525.5 L625.84 532.29 L628.48 538.73 L631.12 544.81 L633.88 550.79 L636.64 556.4 L639.4 561.65 L642.16 566.54 L645.04 571.3 L648.16 576.06 L651.4 580.61 L654.64 584.77 L658 588.72 L661.48 592.45 L665.08 595.95 L668.8 599.23 L672.64 602.28 L676.6 605.11 L680.8 607.81 L685.12 610.28 L689.56 612.55 L694.24 614.66 L699.16 616.63 L704.2 618.4 L709.6 620.07" fill="none" stroke="#D95319" stroke-width="2.8" stroke-linejoin="round" stroke-linecap="round"/>
<path d="M457.6 635.6 L506.92 635.56 L512.32 635.38 L514.36 635.19 L516.04 634.92 L518.44 634.3 L520.6 633.4 L522.76 632.17 L524.92 630.57 L527.08 628.61 L529.24 626.26 L531.28 623.66 L533.2 620.81 L535.12 617.51 L537.04 613.72 L538.96 609.41 L540.88 604.57 L542.68 599.53 L544.6 593.63 L546.52 587.2 L548.44 580.26 L551.68 567.49 L555.16 552.53 L558.4 537.77 L567.04 497.4 L571.96 475.68 L574.48 465.32 L577 455.62 L579.4 447.07 L581.68 439.62 L584.32 431.88 L586.84 425.41 L589.36 419.86 L590.56 417.55 L591.88 415.24 L593.08 413.37 L594.4 411.55 L595.6 410.12 L596.92 408.78 L598.24 407.68 L599.56 406.82 L600.88 406.19 L602.2 405.79 L603.28 405.63 L604.36 405.61 L605.44 405.73 L606.64 406.03 L607.72 406.44 L608.92 407.04 L610.12 407.79 L611.32 408.69 L613.72 410.91 L616.24 413.78 L618.88 417.35 L621.64 421.61 L624.04 425.7 L626.56 430.34 L629.2 435.52 L631.96 441.24 L637.96 454.42 L652.12 487.1 L659.08 502.62 L662.92 510.8 L666.64 518.4 L670.36 525.67 L673.96 532.36 L678.28 539.94 L682.6 547.04 L686.92 553.65 L691.24 559.79 L695.68 565.63 L700.24 571.16 L704.92 576.36 L709.6 581.12" fill="none" stroke="#EDB120" stroke-width="2.8" stroke-linejoin="round" stroke-linecap="round"/>
<rect x="669.6" y="410.9" width="80.8" height="46.8" fill="#fff" stroke="#262626" stroke-width="1"/>
<path d="M681.8 417.9h5.2M684.4 415.6v4.6" stroke="#0000FF" stroke-width="1.2"/>
<text transform="translate(698.4 421.6) scale(1.17 1)" class="lg" style="font-size:9.5px">Data</text>
<path d="M672.2 428.6H696.2" stroke="#0072BD" stroke-width="2.9"/>
<text transform="translate(698.4 432.3) scale(1.17 1)" class="lg" style="font-size:9.5px">v=0.00071</text>
<path d="M672.2 440.1H696.2" stroke="#D95319" stroke-width="2.9"/>
<text transform="translate(698.4 443.8) scale(1.17 1)" class="lg" style="font-size:9.5px">v=0.0005</text>
<path d="M672.2 451.3H696.2" stroke="#EDB120" stroke-width="2.9"/>
<text transform="translate(698.4 455) scale(1.17 1)" class="lg" style="font-size:9.5px">v=0.0004</text>
<path d="M862.6 405.4V635.8H1162.4" fill="none" stroke="#4a4a4a" stroke-width="1.4"/>
<path d="M921.9 635.8v-3M981.9 635.8v-3M1041.9 635.8v-3M1101.9 635.8v-3M1161.9 635.8v-3M862.6 405.4h3.2M862.6 463h3.2M862.6 520.6h3.2M862.6 578.2h3.2M862.6 635.8h3.2M862.6 618.46h1.8M862.6 608.32h1.8M862.6 601.12h1.8M862.6 595.54h1.8M862.6 590.98h1.8M862.6 587.12h1.8M862.6 583.78h1.8M862.6 580.84h1.8M862.6 560.86h1.8M862.6 550.72h1.8M862.6 543.52h1.8M862.6 537.94h1.8M862.6 533.38h1.8M862.6 529.52h1.8M862.6 526.18h1.8M862.6 523.24h1.8M862.6 503.26h1.8M862.6 493.12h1.8M862.6 485.92h1.8M862.6 480.34h1.8M862.6 475.78h1.8M862.6 471.92h1.8M862.6 468.58h1.8M862.6 465.64h1.8M862.6 445.66h1.8M862.6 435.52h1.8M862.6 428.32h1.8M862.6 422.74h1.8M862.6 418.18h1.8M862.6 414.32h1.8M862.6 410.98h1.8M862.6 408.04h1.8" stroke="#4a4a4a" stroke-width="1"/>
<text transform="translate(861.9 650.2) scale(1.17 1)" class="tl" text-anchor="middle" style="font-size:11px">0</text>
<text transform="translate(921.9 650.2) scale(1.17 1)" class="tl" text-anchor="middle" style="font-size:11px">500</text>
<text transform="translate(981.9 650.2) scale(1.17 1)" class="tl" text-anchor="middle" style="font-size:11px">1000</text>
<text transform="translate(1041.9 650.2) scale(1.17 1)" class="tl" text-anchor="middle" style="font-size:11px">1500</text>
<text transform="translate(1101.9 650.2) scale(1.17 1)" class="tl" text-anchor="middle" style="font-size:11px">2000</text>
<text transform="translate(1161.9 650.2) scale(1.17 1)" class="tl" text-anchor="middle" style="font-size:11px">2500</text>
<text transform="translate(858 410.6) scale(1.17 1)" class="tl" text-anchor="end" style="font-size:11px">10<tspan dy="-4.9" style="font-size:8.36px">0</tspan></text>
<text transform="translate(858 468.2) scale(1.17 1)" class="tl" text-anchor="end" style="font-size:11px">10<tspan dy="-4.9" style="font-size:8.36px">-1</tspan></text>
<text transform="translate(858 525.8) scale(1.17 1)" class="tl" text-anchor="end" style="font-size:11px">10<tspan dy="-4.9" style="font-size:8.36px">-2</tspan></text>
<text transform="translate(858 583.4) scale(1.17 1)" class="tl" text-anchor="end" style="font-size:11px">10<tspan dy="-4.9" style="font-size:8.36px">-3</tspan></text>
<text transform="translate(858 641) scale(1.17 1)" class="tl" text-anchor="end" style="font-size:11px">10<tspan dy="-4.9" style="font-size:8.36px">-4</tspan></text>
<text transform="translate(1011.9 664) scale(1.17 1)" class="al" text-anchor="middle" style="font-size:11.8px">Time (s)</text>
<text transform="translate(824.8 521.9) scale(1.17 1) rotate(-90)" text-anchor="middle" class="al" style="font-size:11.8px">C/C<tspan dx="0.2" dy="5.6" style="font-size:8.73px">0</tspan></text>
<path d="M893.1 529.17h4.8M895.5 527.07v4.2M899.7 521.88h4.8M902.1 519.78v4.2M908.22 501.22h4.8M910.62 499.12v4.2M913.38 473.21h4.8M915.78 471.11v4.2M917.46 446.55h4.8M919.86 444.45v4.2M921.66 431.66h4.8M924.06 429.56v4.2M922.86 424.29h4.8M925.26 422.19v4.2M927.78 417.97h4.8M930.18 415.87v4.2M930.78 413.24h4.8M933.18 411.14v4.2M934.98 409.23h4.8M937.38 407.13v4.2M938.7 406.95h4.8M941.1 404.85v4.2M941.22 405.4h4.8M943.62 403.3v4.2M944.34 407.35h4.8M946.74 405.25v4.2M948.54 408.15h4.8M950.94 406.05v4.2M952.14 410.55h4.8M954.54 408.45v4.2M956.34 414.32h4.8M958.74 412.22v4.2M959.22 417.97h4.8M961.62 415.87v4.2M961.86 421.28h4.8M964.26 419.18v4.2M966.42 423.55h4.8M968.82 421.45v4.2M968.34 424.29h4.8M970.74 422.19v4.2M971.82 430.48h4.8M974.22 428.38v4.2M974.94 431.17h4.8M977.34 429.07v4.2M979.86 434.7h4.8M982.26 432.6v4.2M982.86 437.79h4.8M985.26 435.69v4.2M989.1 440.58h4.8M991.5 438.48v4.2M994.26 444.44h4.8M996.66 442.34v4.2M999.54 447.48h4.8M1001.94 445.38v4.2M1008.06 455.87h4.8M1010.46 453.77v4.2M1014.54 462.02h4.8M1016.94 459.92v4.2M1021.62 465.09h4.8M1024.02 462.99v4.2M1029.9 475.78h4.8M1032.3 473.68v4.2M1041.3 479.36h4.8M1043.7 477.26v4.2M1055.1 487.2h4.8M1057.5 485.1v4.2M1070.7 492.87h4.8M1073.1 490.77v4.2M1084.98 510.46h4.8M1087.38 508.36v4.2M1099.14 510.46h4.8M1101.54 508.36v4.2" stroke="#0000FF" stroke-width="1.1" fill="none"/>
<path d="M895.78 635.8 L897.42 609.46 L899.1 586.06 L900.9 564.25 L902.94 542.86 L905.1 523.33 L907.38 505.52 L909.78 489.28 L912.42 473.82 L913.86 466.26 L915.3 459.25 L916.74 452.74 L918.18 446.73 L919.62 441.22 L921.06 436.21 L922.5 431.67 L924.06 427.29 L925.62 423.44 L927.18 420.08 L928.74 417.16 L930.42 414.47 L932.1 412.21 L933.9 410.21 L935.82 408.52 L937.74 407.23 L938.82 406.67 L940.02 406.18 L941.22 405.82 L942.42 405.57 L943.62 405.43 L944.94 405.4 L946.14 405.48 L947.46 405.67 L950.1 406.36 L952.98 407.53 L955.98 409.14 L959.22 411.25 L961.62 413.01 L964.14 415.01 L969.9 419.99 L976.02 425.67 L990.78 439.82 L998.1 446.69 L1005.9 453.72 L1013.22 459.97 L1021.26 466.4 L1029.18 472.25 L1037.34 477.78 L1041.54 480.44 L1045.86 483.06 L1053.06 487.16 L1060.38 491 L1067.7 494.51 L1075.5 497.93 L1083.9 501.31 L1093.02 504.7 L1102.98 508.13 L1113.9 511.65" fill="none" stroke="#0072BD" stroke-width="2.8" stroke-linejoin="round" stroke-linecap="round"/>
<path d="M903.26 635.8 L905.94 609.23 L908.58 585.46 L911.34 562.98 L914.1 542.78 L916.98 523.94 L919.98 506.58 L921.54 498.4 L923.1 490.76 L924.66 483.65 L926.22 477.05 L927.78 470.92 L929.34 465.26 L931.02 459.64 L932.7 454.48 L934.5 449.42 L936.3 444.8 L938.1 440.57 L940.02 436.47 L942.06 432.52 L944.1 428.96 L946.26 425.57 L948.42 422.54 L950.7 419.69 L952.98 417.16 L955.38 414.84 L957.9 412.73 L960.06 411.17 L962.34 409.76 L964.62 408.58 L966.9 407.61 L969.3 406.79 L971.7 406.17 L974.22 405.73 L976.86 405.47 L979.5 405.4 L982.14 405.52 L985.02 405.82 L987.9 406.31 L990.9 406.98 L994.02 407.83 L997.26 408.87 L1000.74 410.15 L1005.9 412.28 L1011.42 414.83 L1017.42 417.86 L1024.14 421.49 L1033.5 426.83 L1056.9 440.64 L1073.22 450.09 L1092.78 461.21 L1113.9 473" fill="none" stroke="#D95319" stroke-width="2.8" stroke-linejoin="round" stroke-linecap="round"/>
<path d="M908.91 635.8 L913.98 597.35 L916.74 577.07 L919.5 557.95 L922.14 541.07 L924.78 525.77 L927.42 512.15 L930.18 499.58 L933.18 487.59 L934.74 481.97 L936.42 476.35 L938.1 471.15 L939.9 466 L941.7 461.25 L943.5 456.88 L945.42 452.58 L947.34 448.62 L949.38 444.77 L951.54 441.03 L953.7 437.61 L955.98 434.31 L958.38 431.15 L960.78 428.27 L963.3 425.51 L966.06 422.76 L968.94 420.16 L971.82 417.81 L974.7 415.7 L977.7 413.74 L980.7 412.03 L983.82 410.48 L986.94 409.16 L990.06 408.06 L993.3 407.14 L996.54 406.43 L1000.02 405.89 L1003.5 405.56 L1007.1 405.41 L1010.82 405.45 L1014.66 405.67 L1018.62 406.09 L1022.34 406.63 L1026.3 407.35 L1030.38 408.24 L1034.58 409.29 L1038.9 410.5 L1043.34 411.87 L1048.02 413.44 L1052.82 415.16 L1060.98 418.32 L1070.34 422.23 L1101.54 436.07 L1113.9 441.39" fill="none" stroke="#EDB120" stroke-width="2.8" stroke-linejoin="round" stroke-linecap="round"/>
<text x="2.09" y="309.00" font-size="23.50" font-weight="bold" textLength="28.83" lengthAdjust="spacingAndGlyphs" class="cap"><tspan font-weight="normal">(</tspan>a<tspan font-weight="normal">)</tspan></text>
<text x="46.93" y="310.80" font-size="28.30" textLength="56.36" lengthAdjust="spacingAndGlyphs" class="cap">BTC</text>
<text x="119.70" y="310.80" font-size="28.30" textLength="47.34" lengthAdjust="spacingAndGlyphs" class="cap">with</text>
<text x="182.02" y="310.80" font-size="28.30" textLength="95.54" lengthAdjust="spacingAndGlyphs" class="cap">different</text>
<text x="292.62" y="310.80" font-size="28.30" textLength="101.04" lengthAdjust="spacingAndGlyphs" class="cap">diffusion</text>
<text x="-1.12" y="343.50" font-size="28.30" textLength="129.62" lengthAdjust="spacingAndGlyphs" class="cap">coefficients</text>
<text x="471.96" y="309.30" font-size="23.50" font-weight="bold" textLength="31.01" lengthAdjust="spacingAndGlyphs" class="cap"><tspan font-weight="normal">(</tspan>b<tspan font-weight="normal">)</tspan></text>
<text x="514.40" y="310.90" font-size="28.30" textLength="94.87" lengthAdjust="spacingAndGlyphs" class="cap">Semilog</text>
<text x="616.57" y="310.90" font-size="28.30" textLength="44.84" lengthAdjust="spacingAndGlyphs" class="cap">plot</text>
<text x="667.96" y="310.90" font-size="28.30" textLength="25.72" lengthAdjust="spacingAndGlyphs" class="cap">of</text>
<text x="699.09" y="310.90" font-size="28.30" textLength="32.21" lengthAdjust="spacingAndGlyphs" class="cap">(a)</text>
<text x="808.55" y="309.00" font-size="23.50" font-weight="bold" textLength="28.40" lengthAdjust="spacingAndGlyphs" class="cap"><tspan font-weight="normal">(</tspan>c<tspan font-weight="normal">)</tspan></text>
<text x="854.62" y="310.80" font-size="28.30" textLength="56.99" lengthAdjust="spacingAndGlyphs" class="cap">BTC</text>
<text x="927.50" y="310.80" font-size="28.30" textLength="48.65" lengthAdjust="spacingAndGlyphs" class="cap">with</text>
<text x="991.52" y="310.80" font-size="28.30" textLength="96.04" lengthAdjust="spacingAndGlyphs" class="cap">different</text>
<text x="1104.42" y="310.80" font-size="28.30" textLength="49.78" lengthAdjust="spacingAndGlyphs" class="cap">time</text>
<text x="1170.12" y="310.80" font-size="28.30" textLength="32.43" lengthAdjust="spacingAndGlyphs" class="cap">in-</text>
<text x="806.52" y="343.50" font-size="28.30" textLength="63.56" lengthAdjust="spacingAndGlyphs" class="cap">dexes</text>
<text x="877.42" y="343.50" font-size="28.30" font-style="italic" textLength="15.44" lengthAdjust="spacingAndGlyphs" class="cap">α</text>
<text x="64.89" y="708.00" font-size="23.50" font-weight="bold" textLength="30.15" lengthAdjust="spacingAndGlyphs" class="cap"><tspan font-weight="normal">(</tspan>d<tspan font-weight="normal">)</tspan></text>
<text x="106.05" y="709.60" font-size="28.30" textLength="95.08" lengthAdjust="spacingAndGlyphs" class="cap">Semilog</text>
<text x="208.22" y="709.60" font-size="28.30" textLength="44.84" lengthAdjust="spacingAndGlyphs" class="cap">plot</text>
<text x="259.61" y="709.60" font-size="28.30" textLength="25.72" lengthAdjust="spacingAndGlyphs" class="cap">of</text>
<text x="290.74" y="709.60" font-size="28.30" textLength="32.21" lengthAdjust="spacingAndGlyphs" class="cap">(c)</text>
<text x="408.20" y="708.00" font-size="23.50" font-weight="bold" textLength="27.10" lengthAdjust="spacingAndGlyphs" class="cap"><tspan font-weight="normal">(</tspan>e<tspan font-weight="normal">)</tspan></text>
<text x="447.42" y="709.60" font-size="28.30" textLength="56.94" lengthAdjust="spacingAndGlyphs" class="cap">BTC</text>
<text x="512.20" y="709.60" font-size="28.30" textLength="48.65" lengthAdjust="spacingAndGlyphs" class="cap">with</text>
<text x="567.61" y="709.60" font-size="28.30" textLength="97.16" lengthAdjust="spacingAndGlyphs" class="cap">different</text>
<text x="673.10" y="709.60" font-size="28.30" textLength="107.29" lengthAdjust="spacingAndGlyphs" class="cap">velocities</text>
<text x="874.49" y="708.00" font-size="23.50" font-weight="bold" textLength="24.70" lengthAdjust="spacingAndGlyphs" class="cap"><tspan font-weight="normal">(</tspan>f<tspan font-weight="normal">)</tspan></text>
<text x="911.25" y="709.60" font-size="28.30" textLength="94.87" lengthAdjust="spacingAndGlyphs" class="cap">Semilog</text>
<text x="1013.42" y="709.60" font-size="28.30" textLength="44.84" lengthAdjust="spacingAndGlyphs" class="cap">plot</text>
<text x="1064.81" y="709.60" font-size="28.30" textLength="25.72" lengthAdjust="spacingAndGlyphs" class="cap">of</text>
<text x="1095.94" y="709.60" font-size="28.30" textLength="32.21" lengthAdjust="spacingAndGlyphs" class="cap">(e)</text>
</svg>
</body></html>
